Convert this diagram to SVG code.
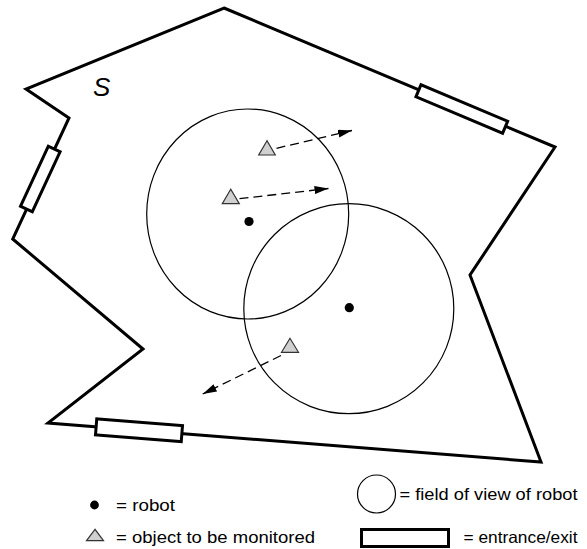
<svg xmlns="http://www.w3.org/2000/svg" width="587" height="549" viewBox="0 0 587 549">
<defs>
<style>
.wall{fill:none;stroke:#000;stroke-width:3;stroke-linejoin:miter}
.door{fill:#fff;stroke:#000;stroke-width:3}
.fov{fill:none;stroke:#000;stroke-width:1.2}
.robot{fill:#000}
.obj{fill:#d0d0d0;stroke:#333;stroke-width:1.2;stroke-linejoin:miter}
.move{fill:none;stroke:#000;stroke-width:1.3;stroke-dasharray:9 5}
.lbl{font-family:"Liberation Sans",Arial,sans-serif;font-size:16.5px;fill:#000}
</style>
<marker id="ah" markerWidth="14" markerHeight="8" refX="14" refY="4" orient="auto" markerUnits="userSpaceOnUse">
<path d="M0,0 L14,4 L0,8 Z" fill="#000"/>
</marker>
</defs>
<rect width="587" height="549" fill="#fff"/>
<g id="area">
<polygon class="wall" points="224,8 555,147 470,275 541,462 48,423 143,349 12.7,239 69,118 26,89"/>
<text x="93" y="95.5" font-family="Liberation Sans, Arial, sans-serif" font-size="26" font-style="italic">S</text>
</g>
<g id="door-left"><rect class="door" x="-33" y="-6.5" width="66" height="13" transform="translate(40.3,179) rotate(114.9)"/></g>
<g id="door-top"><rect class="door" x="-47" y="-6.5" width="94" height="13" transform="translate(461.8,109) rotate(22.8)"/></g>
<g id="door-bottom"><rect class="door" x="-43" y="-8" width="86" height="16" transform="translate(139,430.3) rotate(4.52)"/></g>
<g id="robot1"><ellipse class="fov" cx="247.7" cy="214" rx="101" ry="105"/><circle class="robot" cx="249" cy="221.5" r="4.6"/></g>
<g id="robot2"><circle class="fov" cx="348.8" cy="308.7" r="105"/><circle class="robot" cx="349.3" cy="307.7" r="4.6"/></g>
<g id="connectors">
<line class="move" x1="276.5" y1="148.3" x2="352" y2="130.5" marker-end="url(#ah)"/>
<line class="move" x1="239.5" y1="198.7" x2="328.5" y2="188.5" marker-end="url(#ah)"/>
<line class="move" x1="281" y1="355.5" x2="202.7" y2="394" marker-end="url(#ah)"/>
</g>
<g id="object1"><polygon class="obj" points="267,140.7 258.7,155 275.3,155"/></g>
<g id="object2"><polygon class="obj" points="230.7,189.3 222.3,203.7 239.3,203.7"/></g>
<g id="object3"><polygon class="obj" points="290,338.3 281.5,352.3 298.5,352.3"/></g>
<g id="legend">
<circle class="robot" cx="94.5" cy="505" r="4.4"/>
<text class="lbl" x="116" y="511" textLength="59" lengthAdjust="spacingAndGlyphs">= robot</text>
<polygon class="obj" points="95,529.3 86.5,540.7 103.5,540.7"/>
<text class="lbl" x="116" y="543" textLength="199" lengthAdjust="spacingAndGlyphs">= object to be monitored</text>
<circle class="fov" cx="376.5" cy="494" r="19"/>
<text class="lbl" x="399.5" y="500" textLength="178" lengthAdjust="spacingAndGlyphs">= field of view of robot</text>
<rect class="door" x="361.5" y="529.5" width="87" height="17"/>
<text class="lbl" x="463.5" y="542.5" textLength="114" lengthAdjust="spacingAndGlyphs">= entrance/exit</text>
</g>
</svg>
